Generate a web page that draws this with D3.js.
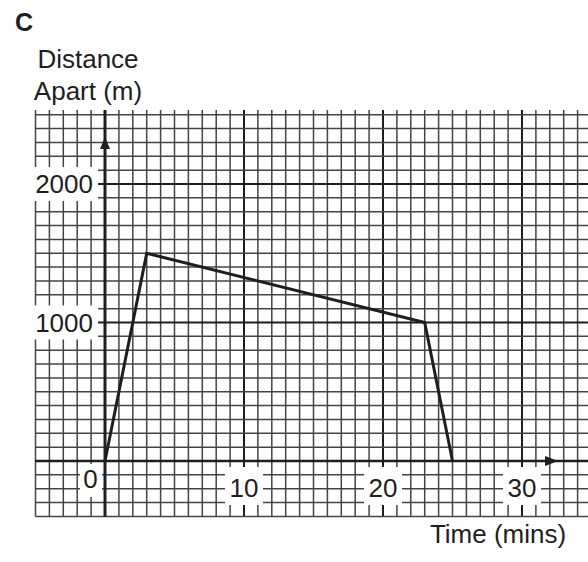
<!DOCTYPE html>
<html>
<head>
<meta charset="utf-8">
<script src="https://cdn.jsdelivr.net/npm/d3@7"></script>
<style>
  body { margin: 0; background: #fff; }
  text { font-family: "Liberation Sans", Arial, sans-serif; fill: #1e1e1e; }
</style>
</head>
<body>
<div id="chart"></div>
<script>
// data
var times = [0, 3, 23, 25];            // minutes
var distances = [0, 1500, 1000, 0];    // metres apart
var xTicks = [0, 10, 20, 30];
var yTicks = [1000, 2000];

var width = 588, height = 562;

var svg = d3.select("#chart")
  .append("svg")
  .attr("width", width)
  .attr("height", height);

var x = d3.scaleLinear().domain([0, 30]).range([105, 522]);
var y = d3.scaleLinear().domain([0, 2000]).range([461, 184]);

var gridTop = 110, gridBottom = 516.5;
var gridLeft = x(-5), gridRight = width;

// minor grid, 1 min by 100 m
var minorX = d3.range(-5, 35);
var minorY = d3.range(-400, 2600, 100);

var grid = svg.append("g").attr("class", "grid");

grid.selectAll(".vline")
  .data(minorX)
  .enter()
  .append("line")
  .attr("class", "vline")
  .attr("x1", d => x(d)).attr("x2", d => x(d))
  .attr("y1", gridTop).attr("y2", gridBottom)
  .attr("stroke", d => d % 10 == 0 ? "#1e1e1e" : "#444")
  .attr("stroke-width", d => d % 10 == 0 ? 2 : 1.5);

grid.selectAll(".hline")
  .data(minorY)
  .enter()
  .append("line")
  .attr("class", "hline")
  .attr("y1", d => y(d)).attr("y2", d => y(d))
  .attr("x1", gridLeft).attr("x2", gridRight)
  .attr("stroke", d => d % 1000 == 0 ? "#1e1e1e" : "#444")
  .attr("stroke-width", d => d % 1000 == 0 ? 2.2 : 1.5);

// tick labels with white boxes over the grid
var fontSize = 26;

svg.selectAll(".ylabelbox")
  .data(yTicks)
  .enter()
  .append("rect")
  .attr("x", 30)
  .attr("y", d => y(d) - 17)
  .attr("width", 68)
  .attr("height", 34)
  .attr("fill", "#fff");

svg.selectAll(".xlabelbox")
  .data(xTicks.slice(1))
  .enter()
  .append("rect")
  .attr("x", d => x(d) - 19)
  .attr("y", 467)
  .attr("width", 38)
  .attr("height", 38)
  .attr("fill", "#fff");

svg.append("rect")
  .attr("x", 80).attr("y", 464)
  .attr("width", 22).attr("height", 33)
  .attr("fill", "#fff");

// axes
svg.append("line")
  .attr("x1", x(0)).attr("x2", x(0))
  .attr("y1", gridTop).attr("y2", gridBottom)
  .attr("stroke", "#1e1e1e").attr("stroke-width", 3);

svg.append("line")
  .attr("x1", gridLeft).attr("x2", gridRight)
  .attr("y1", y(0)).attr("y2", y(0))
  .attr("stroke", "#1e1e1e").attr("stroke-width", 2.5);

// arrow heads
svg.append("path")
  .attr("d", "M" + x(0) + ",137 L" + (x(0) - 5) + ",149 L" + (x(0) + 5) + ",149 Z")
  .attr("fill", "#1e1e1e");

svg.append("path")
  .attr("d", "M558," + y(0) + " L545," + (y(0) - 5) + " L545," + (y(0) + 5) + " Z")
  .attr("fill", "#1e1e1e");

// the graph line
var line = d3.line()
  .x((d, i) => x(times[i]))
  .y(d => y(d));

svg.append("path")
  .datum(distances)
  .attr("d", line)
  .attr("fill", "none")
  .attr("stroke", "#1e1e1e")
  .attr("stroke-width", 3)
  .attr("stroke-linejoin", "miter");

// labels
svg.selectAll(".ytick")
  .data(yTicks)
  .enter()
  .append("text")
  .attr("x", 93)
  .attr("y", d => y(d))
  .attr("dy", "0.36em")
  .attr("text-anchor", "end")
  .style("font-size", fontSize + "px")
  .text(d => d);

svg.selectAll(".xtick")
  .data(xTicks.slice(1))
  .enter()
  .append("text")
  .attr("x", d => x(d))
  .attr("y", 497)
  .attr("text-anchor", "middle")
  .style("font-size", fontSize + "px")
  .text(d => d);

svg.append("text")
  .attr("x", 90.5).attr("y", 488)
  .attr("text-anchor", "middle")
  .style("font-size", fontSize + "px")
  .text("0");

svg.append("text")
  .attr("x", 15).attr("y", 31)
  .style("font-size", "25px")
  .style("font-weight", "bold")
  .text("C");

svg.append("text")
  .attr("x", 88).attr("y", 68)
  .attr("text-anchor", "middle")
  .style("font-size", fontSize + "px")
  .text("Distance");

svg.append("text")
  .attr("x", 88).attr("y", 100)
  .attr("text-anchor", "middle")
  .style("font-size", fontSize + "px")
  .text("Apart (m)");

svg.append("text")
  .attr("x", 498).attr("y", 543)
  .attr("text-anchor", "middle")
  .style("font-size", fontSize + "px")
  .text("Time (mins)");
</script>
</body>
</html>
